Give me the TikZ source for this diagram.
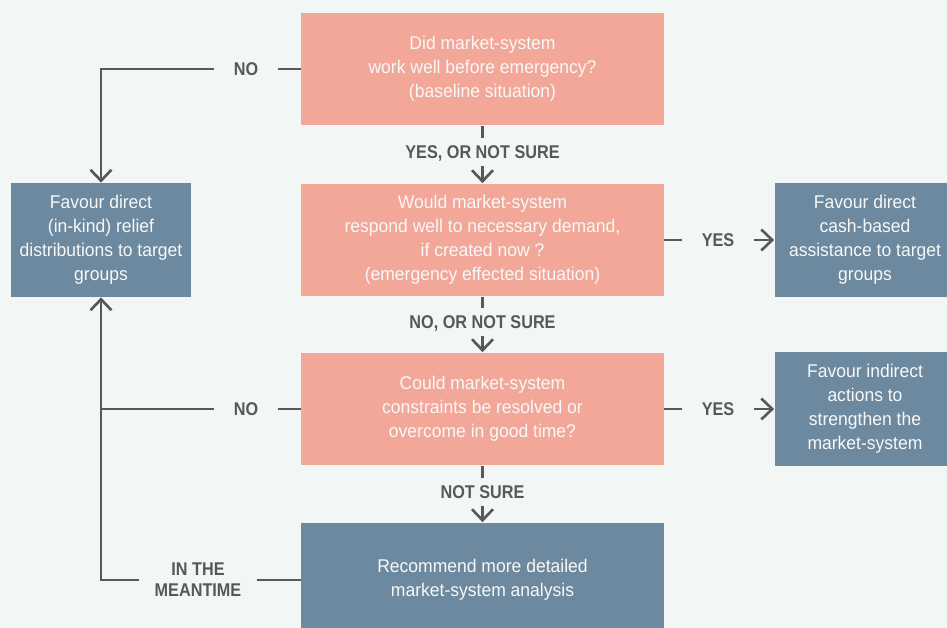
\documentclass[tikz,border=0pt]{standalone}
\usepackage{fontspec}
\setmainfont{Liberation Sans}[FakeStretch=0.88]
\newfontfamily\boxfamily{Liberation Sans}[FakeStretch=0.95]
\usepackage{xcolor}
\usetikzlibrary{positioning,arrows.meta}

\definecolor{pagebg}{HTML}{F2F6F5}
\definecolor{askpink}{HTML}{F2A799}
\definecolor{actblue}{HTML}{6C899F}
\definecolor{boxtext}{HTML}{F8F8F8}
\definecolor{linegray}{HTML}{585858}

\begin{document}
\begin{tikzpicture}[
    x=0.02cm, y=-0.02cm,
    >={Straight Barb[length=0.22cm,width=0.42cm]},
    question/.style={fill=askpink, text=boxtext, align=center, inner sep=0pt,
        minimum width=7.26cm, minimum height=2.26cm,
        font=\boxfamily\fontsize{10.5}{13.7}\selectfont},
    action/.style={fill=actblue, text=boxtext, align=center, inner sep=0pt,
        minimum width=3.62cm, minimum height=2.28cm,
        font=\boxfamily\fontsize{10.5}{13.7}\selectfont},
    answer/.style={text=linegray, font=\bfseries\fontsize{10.5}{11}\selectfont,
        inner xsep=0.38cm, inner ysep=0.15cm, text height=1.35ex, text depth=0pt},
    link/.style={draw=linegray, line width=1.5pt}
]
% page and frame
\useasboundingbox (0,0) rectangle (947,628);
\clip (0,0) rectangle (947,628);
\fill[pagebg] (0,0) rectangle (947,628);

% questions (middle column)
\node[question] (q1) at (482.5,69) {Did market-system\\work well before emergency?\\(baseline situation)};
\node[question] (q2) at (482.5,240) {Would market-system\\respond well to necessary demand,\\if created now ?\\(emergency effected situation)};
\node[question] (q3) at (482.5,409) {Could market-system\\constraints be resolved or\\overcome in good time?};
\node[action, minimum width=7.26cm, minimum height=2.3cm] (rec) at (482.5,580) {Recommend more detailed\\market-system analysis};

% outcomes (side columns)
\node[action] (inkind) at (101,240) {Favour direct\\(in-kind) relief\\distributions to target\\groups};
\node[action] (cash) at (865,240) {Favour direct\\cash-based\\assistance to target\\groups};
\node[action] (indirect) at (865,409) {Favour indirect\\actions to\\strengthen the\\market-system};

% answers
\node[answer] (no1) at (246,69) {NO};
\node[answer] (yes0) at (482.5,152) {YES, OR NOT SURE};
\node[answer] (yes1) at (718,240) {YES};
\node[answer] (nns) at (482.5,322) {NO, OR NOT SURE};
\node[answer] (yes2) at (718,409) {YES};
\node[answer] (no2) at (246,409) {NO};
\node[answer] (ns) at (482.5,492) {NOT SURE};
\node[text=linegray, font=\bfseries\fontsize{10.5}{12}\selectfont, align=center,
    inner xsep=0.3cm] (meantime) at (198,580) {IN THE\\MEANTIME};

% connectors
\draw[link] (q1.west) -- (no1.east);
\draw[link,->] (no1.west) -| (inkind.north);
\draw[link] (q1.south) -- (yes0.north);
\draw[link,->] (yes0.south) -- (q2.north);
\draw[link] (q2.east) -- (yes1.west);
\draw[link,->] (yes1.east) -- (cash.west);
\draw[link] (q2.south) -- (nns.north);
\draw[link,->] (nns.south) -- (q3.north);
\draw[link] (q3.east) -- (yes2.west);
\draw[link,->] (yes2.east) -- (indirect.west);
\draw[link] (q3.west) -- (no2.east);
\draw[link] (no2.west) -- (no2.west -| inkind.south);
\draw[link] (q3.south) -- (ns.north);
\draw[link,->] (ns.south) -- (rec.north);
\draw[link] (rec.west) -- (meantime.east);
\draw[link,->] (meantime.west) -| (inkind.south);
\end{tikzpicture}
\end{document}
